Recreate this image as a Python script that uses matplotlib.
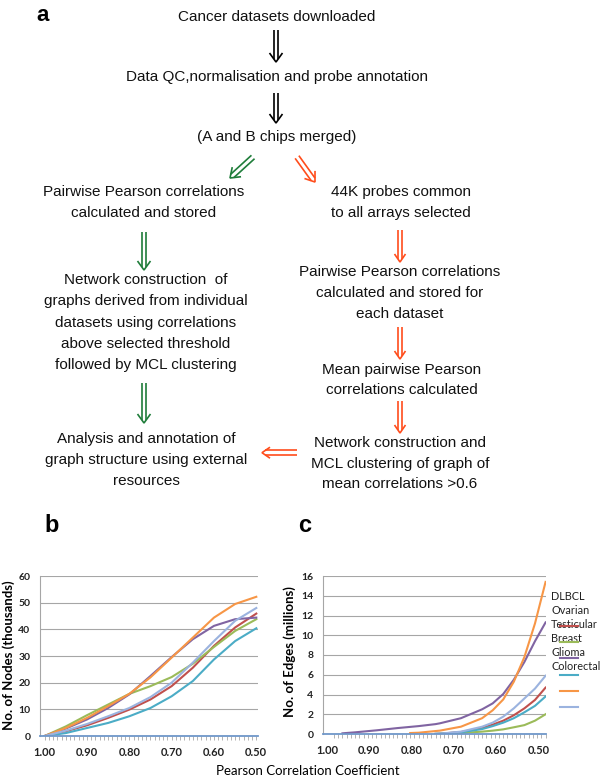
import numpy as np
import matplotlib
matplotlib.use('Agg')
import matplotlib.pyplot as plt
from matplotlib.transforms import ScaledTranslation

W, H = 600, 778

# panel b: number of nodes (thousands) vs correlation threshold
b_x = [1.00, 0.95, 0.90, 0.85, 0.80, 0.75, 0.70, 0.65, 0.60, 0.55, 0.50]
b_dlbcl = [0, 1.8, 4.0, 6.8, 9.9, 13.7, 18.7, 25.6, 33.8, 40.7, 45.9]
b_ovarian = [0, 3.6, 7.8, 11.8, 15.8, 18.7, 22.1, 27.1, 33.4, 39.4, 43.8]
b_testicular = [0, 2.8, 6.2, 10.5, 15.6, 22.5, 29.6, 36.3, 41.3, 43.8, 44.4]
b_breast = [0, 1.1, 3.0, 4.9, 7.4, 10.5, 14.9, 20.6, 28.7, 35.6, 40.4]
b_glioma = [0, 3.0, 6.8, 11.2, 15.8, 22.0, 29.4, 36.9, 44.4, 49.5, 52.2]
b_colorectal = [0, 2.0, 4.5, 7.4, 10.5, 14.6, 20.0, 27.5, 35.6, 43.2, 48.0]

# panel c: number of edges (millions)
nan = np.nan
c_x = [0.98, 0.95, 0.90, 0.85, 0.82, 0.80, 0.76, 0.75, 0.70, 0.65, 0.625, 0.60, 0.575, 0.55, 0.525, 0.50]
c_dlbcl = [nan] * 6 + [0.01, 0.03, 0.2, 0.6, 0.95, 1.35, 1.9, 2.6, 3.45, 4.7]
c_ovarian = [nan] * 6 + [0.01, 0.02, 0.1, 0.24, 0.34, 0.47, 0.68, 0.9, 1.35, 2.0]
c_testicular = [0.07, 0.17, 0.37, 0.6, 0.72, 0.8, 1.0, 1.08, 1.6, 2.5, 3.1, 4.05, 5.5, 7.3, 9.4, 11.3]
c_breast = [nan] * 6 + [0.01, 0.03, 0.17, 0.5, 0.8, 1.15, 1.6, 2.2, 2.85, 3.8]
c_glioma = [nan] * 4 + [0.1, 0.13, 0.3, 0.34, 0.74, 1.6, 2.4, 3.5, 5.3, 7.8, 11.2, 15.4]
c_colorectal = [nan] * 6 + [0.02, 0.03, 0.24, 0.74, 1.15, 1.76, 2.6, 3.6, 4.6, 5.9]

names = ['DLBCL', 'Ovarian', 'Testicular', 'Breast', 'Glioma', 'Colorectal']
colors = ['#C0504D', '#9BBB59', '#8064A2', '#4BACC6', '#F79646', '#9BB3DF']
x_ticks = [1.00, 0.90, 0.80, 0.70, 0.60, 0.50]

FLOW = 'Liberation Sans'
CHART = 'Lato'
GREEN = '#1f7d3a'
ORANGE = '#ff4d1c'

fig = plt.figure(figsize=(6, 7.78), dpi=100)
ax0 = fig.add_axes([0, 0, 1, 1])
ax0.set_xlim(0, W)
ax0.set_ylim(H, 0)
ax0.axis('off')


def double_arrow(x0, y0, x1, y1, color, gap=2.3, hw=6.5, hl=9, lw=1.2):
    p0 = np.array([x0, y0], float)
    tip = np.array([x1, y1], float)
    d = tip - p0
    d = d / np.hypot(*d)
    n = np.array([-d[1], d[0]])
    a = tip - hl * d + hw * n
    b = tip - hl * d - hw * n
    ax0.plot([a[0], tip[0], b[0]], [a[1], tip[1], b[1]], color=color, lw=lw,
             solid_joinstyle='miter', solid_capstyle='butt')
    for s in (gap, -gap):
        st = p0 + s * n
        en = tip - hl * (gap / hw) * d + s * n
        ax0.plot([st[0], en[0]], [st[1], en[1]], color=color, lw=lw, solid_capstyle='butt')


# flow chart text
flow_text = [
    (277, 17, "Cancer datasets downloaded"),
    (277, 77, "Data QC,normalisation and probe annotation"),
    (277, 137, "(A and B chips merged)"),
    (144, 192, "Pairwise Pearson correlations"),
    (144, 213, "calculated and stored"),
    (401, 192, "44K probes common"),
    (401, 213, "to all arrays selected"),
    (146, 280, "Network construction  of"),
    (146, 301, "graphs derived from individual"),
    (146, 322.5, "datasets using correlations"),
    (146, 344, "above selected threshold"),
    (146, 365, "followed by MCL clustering"),
    (400, 272, "Pairwise Pearson correlations"),
    (400, 293, "calculated and stored for"),
    (400, 313.5, "each dataset"),
    (402, 369.5, "Mean pairwise Pearson"),
    (402, 390, "correlations calculated"),
    (146, 439, "Analysis and annotation of"),
    (146, 460, "graph structure using external"),
    (146, 481, "resources"),
    (400, 442.5, "Network construction and"),
    (400, 463.5, "MCL clustering of graph of"),
    (400, 484, "mean correlations >0.6"),
]
for x, y, t in flow_text:
    ax0.text(x, y, t, ha='center', va='center', fontsize=11, family=FLOW, color='#111111')

double_arrow(276, 30, 276, 62, 'black')
double_arrow(276, 93, 276, 123, 'black')
double_arrow(253, 157, 230, 178, GREEN)
double_arrow(297, 157, 315, 182, ORANGE)
double_arrow(144, 232, 144, 270, GREEN)
double_arrow(144, 383, 144, 423, GREEN)
double_arrow(400, 230, 400, 262, ORANGE, hw=5.5, hl=8)
double_arrow(400, 327, 400, 359, ORANGE, hw=5.5, hl=8)
double_arrow(400, 401, 400, 433, ORANGE, hw=5.5, hl=8)
double_arrow(297, 452.7, 262, 452.7, ORANGE, hw=5.5, hl=8)

ax0.text(43, 15, 'a', ha='center', va='center', fontsize=16, fontweight='bold', family=FLOW)
ax0.text(52, 526, 'b', ha='center', va='center', fontsize=17, fontweight='bold', family=FLOW)
ax0.text(305, 526, 'c', ha='center', va='center', fontsize=17, fontweight='bold', family=FLOW)


def style_chart(ax, ymax, ystep, xlim, label_shift=0):
    ax.set_xlim(*xlim)
    ax.set_ylim(0, ymax)
    ax.set_yticks(np.arange(0, ymax + 1, ystep))
    ax.set_xticks(x_ticks)
    ax.set_xticklabels([f'{v:.2f}' for v in x_ticks])
    ax.set_xticks(np.linspace(1.0, 0.5, 51), minor=True)
    ax.yaxis.grid(True, color='#a6a6a6', lw=0.8)
    ax.set_axisbelow(True)
    for s in ('top', 'right'):
        ax.spines[s].set_visible(False)
    ax.spines['left'].set_color('#a6a6a6')
    ax.spines['left'].set_linewidth(0.8)
    ax.spines['bottom'].set_color('#6f97c9')
    ax.spines['bottom'].set_linewidth(1.3)
    ax.spines['bottom'].set_zorder(5)
    ax.tick_params(axis='x', which='both', direction='out', length=3, color='#a6a6a6',
                   width=0.6, pad=5, labelsize=8)
    ax.tick_params(axis='y', length=0, pad=7, labelsize=7.5)
    for lab in ax.get_xticklabels() + ax.get_yticklabels():
        lab.set_fontfamily(CHART)
        lab.set_fontweight('bold')
        lab.set_color('#222222')
    if label_shift:
        off = ScaledTranslation(label_shift / 100, 0, fig.dpi_scale_trans)
        for lab in ax.get_xticklabels():
            lab.set_transform(lab.get_transform() + off)


# panel b
axb = fig.add_axes([40 / W, 1 - 736 / H, 218 / W, 160 / H])
for ys, c in zip([b_dlbcl, b_ovarian, b_testicular, b_breast, b_glioma, b_colorectal], colors):
    axb.plot(b_x, ys, color=c, lw=1.5)
style_chart(axb, 60, 10, (1.011, 0.496))

# panel c
axc = fig.add_axes([323 / W, 1 - 734 / H, 223 / W, 158 / H])
for ys, c in zip([c_dlbcl, c_ovarian, c_testicular, c_breast, c_glioma, c_colorectal], colors):
    axc.plot(c_x, ys, color=c, lw=1.5)
style_chart(axc, 16, 2, (1.026, 0.499), label_shift=-7)

ax0.text(9, 655, 'No. of Nodes (thousands)', rotation=90, ha='center', va='center',
         fontsize=9.5, fontweight='bold', family=CHART)
ax0.text(290, 652, 'No. of Edges (millions)', rotation=90, ha='center', va='center',
         fontsize=9.5, fontweight='bold', family=CHART)
ax0.text(308, 771, 'Pearson Correlation Coefficient', ha='center', va='center',
         fontsize=9.5, family=CHART)

# legend of panel c (the labels sit a little off their lines in the original)
for i, (name, c) in enumerate(zip(names, colors)):
    ax0.text(551, 597 + 14 * i, name, ha='left', va='center', fontsize=7.8,
             family=CHART, color='#222222')
    ax0.plot([560, 578], [626 + 16.2 * i] * 2, color=c, lw=1.5, zorder=5)

fig.savefig('out.png', dpi=100)
